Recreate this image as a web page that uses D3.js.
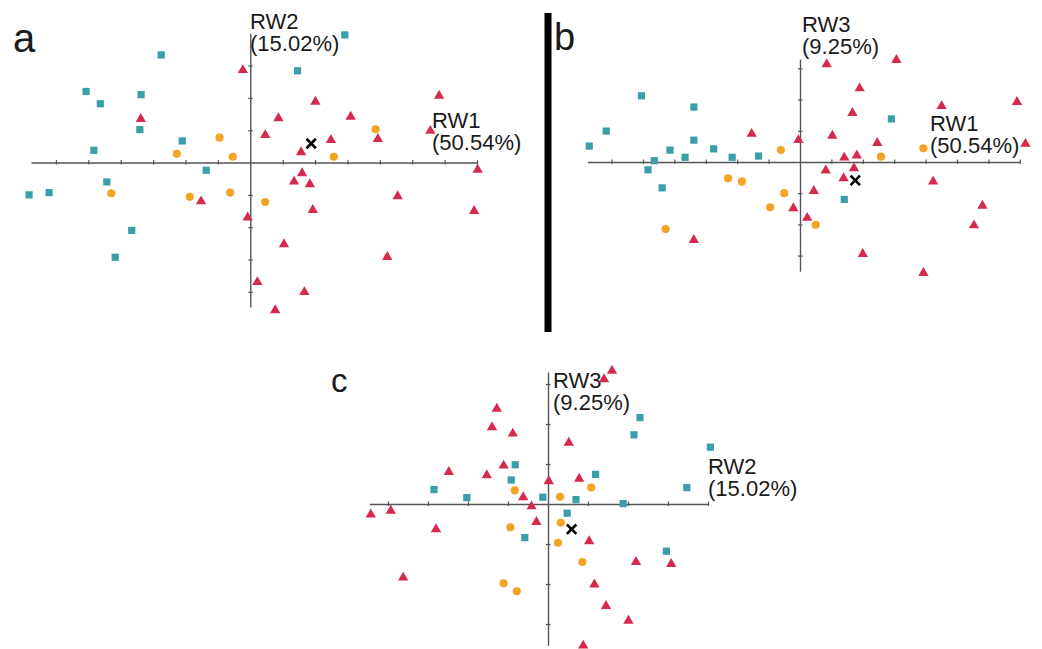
<!DOCTYPE html>
<html>
<head>
<meta charset="utf-8">
<script src="https://cdn.jsdelivr.net/npm/d3@7"></script>
<style>
  body { margin: 0; background: #fff; }
  svg text { font-family: "Liberation Sans", Arial, sans-serif; fill: #1a1a1a; }
</style>
</head>
<body>
<svg width="1042" height="649"></svg>
<script>
// axis labels
const rw1Label = ["RW1", "(50.54%)"];
const rw2Label = ["RW2", "(15.02%)"];
const rw3Label = ["RW3", "(9.25%)"];

// panel a: RW1 (x) vs RW2 (y)
const aSquares = [[-2.75,3.33],[-5.07,2.20],[-4.63,1.82],[-3.37,2.10],[-3.41,1.02],[-2.10,0.67],[-4.83,0.38],
    [-1.36,-0.24],[-4.43,-0.60],[-6.83,-1.00],[-6.21,-0.93],[-3.66,-2.10],[-4.17,-2.93],[2.92,3.95],[1.46,2.84]];
const aTriangles = [[-0.23,2.86],[-3.38,1.35],[0.46,0.85],[-1.52,-1.20],[-0.08,-1.70],[0.22,-3.70],[2.01,1.88],
    [0.87,1.37],[3.10,1.42],[5.83,2.07],[5.56,0.98],[2.49,0.70],[3.94,0.73],[1.57,0.32],[1.60,-0.33],[1.35,-0.59],
    [1.84,-0.67],[7.02,-0.22],[4.55,-1.04],[1.93,-1.47],[6.91,-1.50],[1.04,-2.53],[4.23,-2.92],[1.67,-4.01],[0.77,-4.57]];
const aCircles = [[-0.95,0.77],[-2.27,0.27],[-0.54,0.18],[-4.29,-0.95],[-1.87,-1.06],[-0.62,-0.93],[0.46,-1.22],
    [3.87,1.03],[2.58,0.18]];
const aCross = [[1.88,0.59]];

// panel b: RW1 (x) vs RW3 (y)
const bSquares = [[-5.05,2.12],[-3.38,1.76],[-6.17,0.99],[-6.71,0.51],[-3.38,0.70],[-4.14,0.38],[-2.75,0.42],
    [-3.66,0.15],[-4.64,0.04],[-2.16,0.15],[-1.32,0.19],[-4.84,-0.25],[-4.39,-0.83],[2.91,1.38],[1.41,-1.20]];
const bTriangles = [[-1.54,0.90],[-0.21,-1.48],[-3.38,-2.50],[-0.05,0.70],[0.85,3.13],[3.07,3.27],[1.90,2.36],
    [4.51,1.79],[6.91,1.92],[1.67,1.57],[1.03,0.84],[2.46,0.61],[7.18,0.58],[1.41,0.14],[1.81,0.21],[0.82,-0.27],
    [1.72,-0.20],[1.39,-0.52],[4.24,-0.63],[0.44,-0.93],[5.81,-1.40],[0.23,-1.79],[5.54,-2.03],[2.00,-2.95],[3.93,-3.56]];
const bCircles = [[-0.61,0.38],[-2.29,-0.52],[-1.85,-0.63],[-0.50,-1.00],[-0.95,-1.45],[-4.28,-2.15],[2.58,0.17],
    [3.93,0.44],[0.50,-2.01]];
const bCross = [[1.76,-0.59]];

// panel c: RW2 (x) vs RW3 (y)
const cSquares = [[-0.82,0.98],[-0.92,0.60],[-2.85,0.36],[-2.03,0.16],[-0.13,0.17],[-0.58,-0.84],[2.30,2.16],
    [2.15,1.73],[4.06,1.42],[1.19,0.74],[3.47,0.41],[0.70,0.11],[1.88,0.01],[0.48,-0.23],[2.96,-1.18]];
const cTriangles = [[-1.28,2.38],[-1.40,1.92],[-0.88,1.76],[-2.48,0.80],[-1.11,0.96],[-1.53,0.72],[0.02,0.57],
    [-0.62,0.17],[-0.41,-0.06],[-4.43,-0.26],[-3.93,-0.17],[-2.80,-0.63],[-0.29,-0.45],[-3.62,-1.84],[1.60,3.33],
    [1.40,3.12],[0.52,1.53],[0.78,0.63],[1.03,-0.93],[2.20,-1.45],[3.08,-1.50],[1.16,-2.01],[1.45,-2.55],[2.01,-2.92],[0.88,-3.54]];
const cCircles = [[-0.83,0.34],[-0.94,-0.58],[-1.11,-1.98],[-0.78,-2.18],[0.30,0.18],[0.32,-0.47],[0.25,-0.97],
    [1.08,0.41],[0.86,-1.45]];
const cCross = [[0.59,-0.63]];

// tick values
const rw1Ticks = [-6,-5,-4,-3,-2,-1,1,2,3,4,5,6,7];
const rw2Ticks = [-4,-3,-2,-1,1,2,3,4];
const rw2TicksY = [-4,-3,-2,-1,1,2,3];
const rw3Ticks = [-3,-2,-1,1,2,3];

const teal = "#3a9fa9", red = "#d5294d", orange = "#f4a424";

const svg = d3.select("svg");

const panels = [
    { letter: "a", lx: 13, ly: 52, lsize: 40,
      xDom: [-6.77, 7], xRange: [31, 477], yDom: [-4.47, 4], yRange: [307, 33.3],
      xTicks: rw1Ticks, yTicks: rw2TicksY, xLab: rw1Label, yLab: rw2Label,
      xLabPos: [432, 128], yLabPos: [250, 29],
      sq: aSquares, tri: aTriangles, cir: aCircles, cross: aCross },
    { letter: "b", lx: 554, ly: 50, lsize: 38,
      xDom: [-6.77, 7], xRange: [587.4, 1019.8], yDom: [-3.5, 3.3], yRange: [271.2, 59],
      xTicks: rw1Ticks, yTicks: rw3Ticks, xLab: rw1Label, yLab: rw3Label,
      xLabPos: [930, 131], yLabPos: [802, 32],
      sq: bSquares, tri: bTriangles, cir: bCircles, cross: bCross },
    { letter: "c", lx: 331, ly: 392, lsize: 33,
      xDom: [-4.47, 4], xRange: [369.2, 708], yDom: [-3.53, 3.3], yRange: [645.2, 372],
      xTicks: rw2Ticks, yTicks: rw3Ticks, xLab: rw2Label, yLab: rw3Label,
      xLabPos: [708, 474], yLabPos: [553, 388],
      sq: cSquares, tri: cTriangles, cir: cCircles, cross: cCross }
];

panels.forEach(function (p) {
    var x = d3.scaleLinear().domain(p.xDom).range(p.xRange);
    var y = d3.scaleLinear().domain(p.yDom).range(p.yRange);
    var g = svg.append("g");

    // axes through the origin
    var xAxis = g.append("g")
        .attr("transform", "translate(0," + y(0) + ")")
        .call(d3.axisBottom(x).tickValues(p.xTicks).tickSize(2).tickSizeOuter(0).tickFormat(""));
    xAxis.selectAll(".tick line").attr("y1", -2.5).attr("y2", 2);
    var yAxis = g.append("g")
        .attr("transform", "translate(" + x(0) + ",0)")
        .call(d3.axisRight(y).tickValues(p.yTicks).tickSize(2).tickSizeOuter(0).tickFormat(""));
    yAxis.selectAll(".tick line").attr("x1", -2).attr("x2", 2.5);
    g.selectAll(".domain").attr("stroke", "#555").attr("stroke-width", 1.4);
    g.selectAll(".tick line").attr("stroke", "#555").attr("stroke-width", 1.2);

    // axis labels
    [[p.xLab, p.xLabPos], [p.yLab, p.yLabPos]].forEach(function (l) {
        var t = g.append("text").attr("font-size", "22px");
        t.selectAll("tspan").data(l[0]).enter().append("tspan")
            .attr("x", l[1][0])
            .attr("y", function (d, i) { return l[1][1] + i * 22; })
            .text(function (d) { return d; });
    });

    g.append("text")
        .attr("x", p.lx).attr("y", p.ly)
        .attr("font-size", p.lsize + "px")
        .text(p.letter);

    var sym = function (type, size) { return d3.symbol().type(type).size(size)(); };
    var put = function (d) { return "translate(" + x(d[0]) + "," + y(d[1]) + ")"; };

    g.selectAll(".sq").data(p.sq).enter().append("path")
        .attr("d", sym(d3.symbolSquare, 52)).attr("fill", teal).attr("transform", put);
    g.selectAll(".tri").data(p.tri).enter().append("path")
        .attr("d", sym(d3.symbolTriangle, 46)).attr("fill", red).attr("transform", put);
    g.selectAll(".cir").data(p.cir).enter().append("path")
        .attr("d", sym(d3.symbolCircle, 52)).attr("fill", orange).attr("transform", put);
    g.selectAll(".cross").data(p.cross).enter().append("path")
        .attr("d", sym(d3.symbolTimes, 60)).attr("fill", "none")
        .attr("stroke", "#000").attr("stroke-width", 2.6).attr("transform", put);
});

// separator between a and b
svg.append("rect")
    .attr("x", 544.5).attr("y", 13)
    .attr("width", 7).attr("height", 319)
    .attr("fill", "#000");
</script>
</body>
</html>
